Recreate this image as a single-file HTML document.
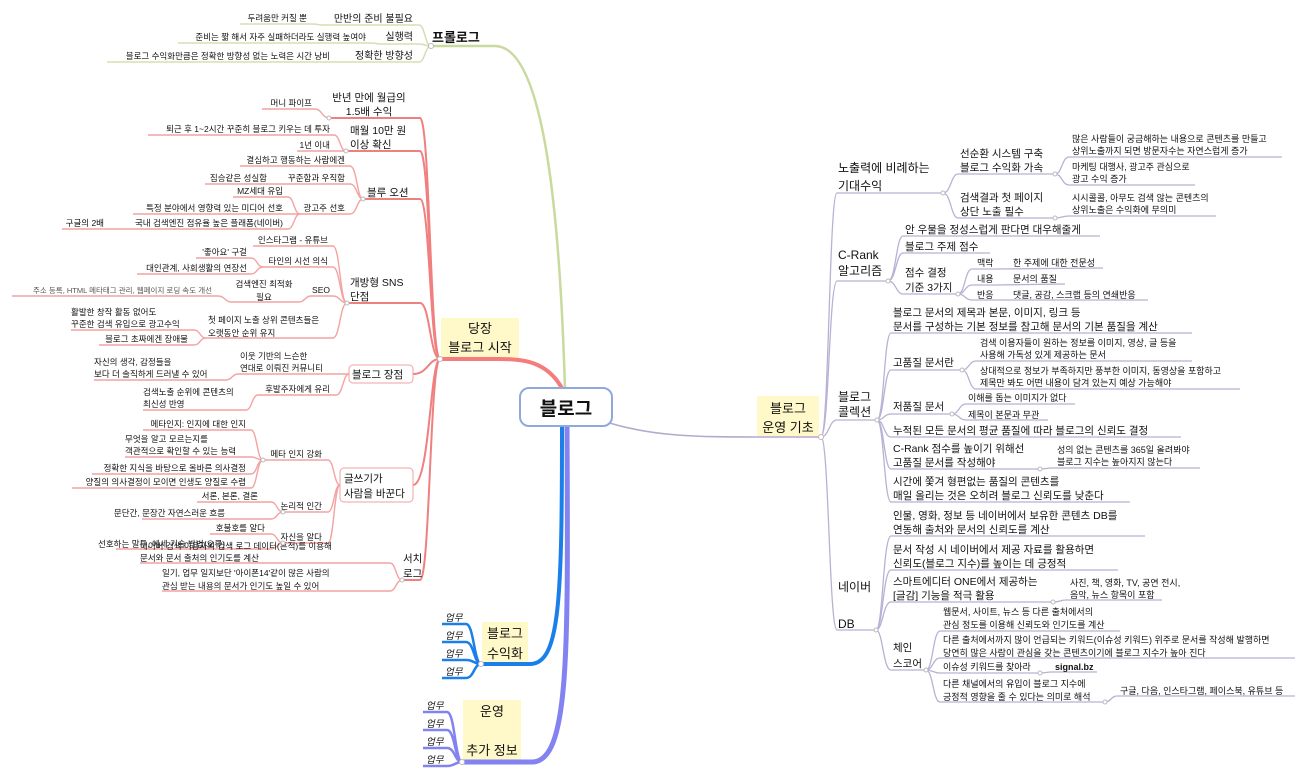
<!DOCTYPE html>
<html><head><meta charset="utf-8"><style>
html,body{margin:0;padding:0;background:#fff;}
svg{display:block;}
text{font-family:"Liberation Sans","Noto Sans CJK KR",sans-serif;fill:#111;}
.f13{font-size:13px;}
.f12{font-size:12px;}
.f105{font-size:10.5px;}
.f10{font-size:10px;}
.f9{font-size:9px;}
.f85{font-size:8.5px;}
.g{font-size:7.5px;fill:#555;}
.up{font-size:9.5px;fill:#9a9a9a;font-style:italic;}
.R path{fill:none;}
</style></head><body>
<svg width="1311" height="777" viewBox="0 0 1311 777" xmlns="http://www.w3.org/2000/svg">
<!-- yellow backgrounds -->
<rect x="441" y="318" width="78" height="40" fill="#fff8c9"/>
<rect x="757" y="396" width="62" height="40" fill="#fff8c9"/>
<rect x="482" y="622" width="46" height="41" fill="#fff8c9"/>
<rect x="463" y="700" width="58" height="61" fill="#fff8c9"/>

<!-- main branches -->
<path d="M565 390 C560 220 545 46 495 46 L431 46" stroke="#c9da9f" stroke-width="2.5" fill="none"/>
<path d="M563 390 C548 362 525 359 500 359 L440 359" stroke="#f47c7c" stroke-width="4" fill="none"/>
<path d="M567 424 C568 650 570 762 532 762 L462 762" stroke="#8282f0" stroke-width="5" fill="none"/>
<path d="M562 424 C562 600 560 664 530 664 L481 664" stroke="#1a7fe8" stroke-width="4" fill="none"/>
<path d="M600 420 C650 437 700 437 757 437 L821 437" stroke="#b3a9cc" stroke-width="1.6" fill="none"/>

<!-- prologue children -->
<g stroke="#d3dfb3" stroke-width="1.5" fill="none">
<path d="M431 46 C425 46 425 25 419 25 L322 25"/>
<path d="M322 25 C318 25 318 24 312 24 L240 24"/>
<path d="M431 46 C425 46 425 44 419 44 L381 44"/>
<path d="M381 44 C376 44 376 43 370 43 L178 43"/>
<path d="M431 46 C425 46 425 62 419 62 L347 62"/>
<path d="M347 62 C342 62 342 62 336 62 L107 62"/>
</g>

<!-- red level 1 -->
<g stroke="#f07f7f" stroke-width="2" fill="none">
<path d="M440 359 C430 359 430 118 420 118 L329 118"/>
<path d="M440 359 C430 359 430 151 420 151 L346 151"/>
<path d="M440 359 C430 359 430 199 420 199 L363 199"/>
<path d="M440 359 C430 359 430 303 420 303 L347 303"/>
<path d="M440 359 C428 359 428 374 413 374"/>
<path d="M440 359 C430 359 430 485 413 485"/>
<path d="M440 359 C430 359 430 580 420 580 L402 580"/>
</g>
<rect x="349" y="365" width="64" height="18" rx="4" fill="#fff" stroke="#f2a0a0" stroke-width="1"/>
<rect x="340" y="468" width="73" height="34" rx="4" fill="#fff" stroke="#f2a0a0" stroke-width="1"/>
<!-- red level 2+ -->
<g stroke="#f4a2a2" stroke-width="1.4" fill="none">
<path d="M329 118 C322 118 322 109 315 109 L262 109"/>
<path d="M346 151 C340 151 340 135 334 135 L148 135"/>
<path d="M346 151 C340 151 340 151 334 151 L297 151"/>
<path d="M363 199 C357 199 357 166 350 166 L240 166"/>
<path d="M363 199 C357 199 357 184 350 184 L283 184"/>
<path d="M283 184 C278 184 278 184 272 184 L205 184"/>
<path d="M363 199 C357 199 357 214 350 214 L300 214"/>
<path d="M300 214 C294 214 294 197 288 197 L233 197"/>
<path d="M300 214 C294 214 294 214 288 214 L133 214"/>
<path d="M300 214 C294 214 294 229 288 229 L120 229"/>
<path d="M120 229 C114 229 114 229 108 229 L62 229"/>
<path d="M347 303 C340 303 340 246 333 246 L253 246"/>
<path d="M347 303 C340 303 340 267 333 267 L263 267"/>
<path d="M263 267 C257 267 257 258 251 258 L196 258"/>
<path d="M263 267 C257 267 257 274 251 274 L137 274"/>
<path d="M347 303 C340 303 340 296 333 296 L311 296"/>
<path d="M311 296 C305 296 305 302 299 302 L231 302"/>
<path d="M231 302 C225 302 225 296 218 296 L12 296"/>
<path d="M347 303 C340 303 340 338 333 338 L206 338"/>
<path d="M206 338 C200 338 200 330 194 330 L71 330"/>
<path d="M206 338 C200 338 200 345 194 345 L99 345"/>
<path d="M349 374 C343 374 343 374 336 374 L238 374"/>
<path d="M238 374 C232 374 232 380 226 380 L94 380"/>
<path d="M349 374 C343 374 343 395 336 395 L258 395"/>
<path d="M258 395 C252 395 252 410 246 410 L143 410"/>
<path d="M340 485 C334 485 334 460 328 460 L263 460"/>
<path d="M263 460 C257 460 257 430 251 430 L143 430"/>
<path d="M263 460 C257 460 257 457 251 457 L125 457"/>
<path d="M263 460 C257 460 257 474 251 474 L92 474"/>
<path d="M263 460 C257 460 257 488 251 488 L72 488"/>
<path d="M340 485 C334 485 334 512 328 512 L283 512"/>
<path d="M283 512 C277 512 277 502 271 502 L197 502"/>
<path d="M283 512 C277 512 277 519 271 519 L142 519"/>
<path d="M340 485 C334 485 334 543 328 543 L283 543"/>
<path d="M283 543 C277 543 277 534 271 534 L210 534"/>
<path d="M283 543 C277 543 277 549 271 549 L116 549"/>
<path d="M402 580 C396 580 396 563 390 563 L140 563"/>
<path d="M402 580 C396 580 396 591 390 591 L162 591"/>
</g>

<!-- blue / purple children -->
<g stroke="#1a7fe8" stroke-width="2.5" fill="none">
<path d="M481 664 C474 664 474 624 466 624 L442 624"/>
<path d="M481 664 C474 664 474 642 466 642 L442 642"/>
<path d="M481 664 C474 664 474 660 466 660 L442 660"/>
<path d="M481 664 C474 664 474 678 466 678 L442 678"/>
</g>
<g stroke="#8282f0" stroke-width="2.5" fill="none">
<path d="M462 762 C455 762 455 712 447 712 L423 712"/>
<path d="M462 762 C455 762 455 730 447 730 L423 730"/>
<path d="M462 762 C455 762 455 748 447 748 L423 748"/>
<path d="M462 762 C455 762 455 766 447 766 L423 766"/>
</g>

<!-- right side -->
<g stroke="#b9b1d3" stroke-width="1.3" fill="none">
<path d="M821 437 C829 437 829 193 837 193 L943 193"/>
<path d="M821 437 C829 437 829 281 837 281 L888 281"/>
<path d="M821 437 C829 437 829 420 837 420 L877 420"/>
<path d="M821 437 C829 437 829 630 837 630 L876 630"/>
<path d="M943 193 C951 193 951 174 958 174 L1055 174"/>
<path d="M943 193 C951 193 951 218 958 218 L1055 218"/>
<path d="M1055 174 C1062 174 1062 157 1069 157 L1282 157"/>
<path d="M1055 174 C1062 174 1062 185 1069 185 L1195 185"/>
<path d="M1055 218 C1062 218 1062 216 1069 216 L1216 216"/>
<path d="M888 281 C896 281 896 236 903 236 L1100 236"/>
<path d="M888 281 C896 281 896 253 903 253 L990 253"/>
<path d="M888 281 C896 281 896 294 903 294 L958 294"/>
<path d="M958 294 C965 294 965 269 972 269 L995 269"/>
<path d="M958 294 C965 294 965 285 972 285 L995 285"/>
<path d="M958 294 C965 294 965 300 972 300 L995 300"/>
<path d="M995 269 L1103 268"/>
<path d="M995 285 L1065 284"/>
<path d="M995 300 L1148 300"/>
<path d="M877 420 C884 420 884 333 891 333 L1192 333"/>
<path d="M877 420 C884 420 884 370 891 370 L962 370"/>
<path d="M962 370 C969 370 969 361 976 361 L1192 361"/>
<path d="M962 370 C969 370 969 389 976 389 L1240 389"/>
<path d="M877 420 C884 420 884 414 891 414 L952 414"/>
<path d="M952 414 C959 414 959 404 966 404 L1075 404"/>
<path d="M952 414 C959 414 959 420 966 420 L1048 420"/>
<path d="M877 420 C884 420 884 437 891 437 L1181 437"/>
<path d="M877 420 C884 420 884 469 891 469 L1040 469"/>
<path d="M1040 469 C1046 469 1046 468 1053 468 L1200 468"/>
<path d="M877 420 C884 420 884 502 891 502 L1130 502"/>
<path d="M876 630 C883 630 883 536 891 536 L1145 536"/>
<path d="M876 630 C883 630 883 570 891 570 L1118 570"/>
<path d="M876 630 C883 630 883 602 891 602 L1053 602"/>
<path d="M1053 602 C1060 602 1060 600 1066 600 L1162 600"/>
<path d="M876 630 C883 630 883 670 891 670 L926 670"/>
<path d="M926 670 C933 670 933 631 940 631 L1120 631"/>
<path d="M926 670 C933 670 933 658 940 658 L1295 658"/>
<path d="M926 670 C933 670 933 673 940 673 L1040 673"/>
<path d="M1040 673 C1046 673 1046 672 1052 672 L1097 672"/>
<path d="M926 670 C933 670 933 702 940 702 L1105 702"/>
<path d="M1105 702 C1111 702 1111 696 1117 696 L1295 696"/>
</g>

<!-- central node -->
<rect x="520" y="388" width="92" height="38" rx="9" fill="#fff" stroke="#8fa9dc" stroke-width="2"/>
<text x="566" y="415" text-anchor="middle" style="font-size:19px;font-weight:bold">블로그</text>

<!-- prologue texts -->
<text class="f13" x="432" y="42" style="font-weight:bold">프롤로그</text>
<g class="f10" text-anchor="end">
<text x="413" y="22">만반의 준비 불필요</text>
<text x="413" y="40">실행력</text>
<text x="413" y="59">정확한 방향성</text>
</g>
<g class="f85" text-anchor="end">
<text x="307" y="21">두려움만 커질 뿐</text>
<text x="366" y="40">준비는 짧 해서 자주 실패하더라도 실행력 높여야</text>
<text x="330" y="59">블로그 수익화만큼은 정확한 방향성 없는 노력은 시간 낭비</text>
</g>

<!-- red texts -->
<text class="f13" x="480" y="333" text-anchor="middle">당장</text>
<text class="f13" x="480" y="352" text-anchor="middle">블로그 시작</text>
<g class="f105">
<text x="369" y="101" text-anchor="middle">반년 만에 월급의</text>
<text x="369" y="115" text-anchor="middle">1.5배 수익</text>
<text x="350" y="134">매월 10만 원</text>
<text x="350" y="148">이상 확신</text>
<text x="367" y="196">블루 오션</text>
<text x="350" y="286">개방형 SNS</text>
<text x="350" y="300">단점</text>
<text x="352" y="378">블로그 장점</text>
<text x="344" y="482">글쓰기가</text>
<text x="344" y="497">사람을 바꾼다</text>
<text x="403" y="562">서치</text>
<text x="403" y="577">로그</text>
</g>
<g class="f85" text-anchor="end">
<text x="312" y="106">머니 파이프</text>
<text x="330" y="132">퇴근 후 1~2시간 꾸준히 블로그 키우는 데 투자</text>
<text x="330" y="148">1년 이내</text>
<text x="345" y="163">결심하고 행동하는 사람에겐</text>
<text x="345" y="181">꾸준함과 우직함</text>
<text x="267" y="181">짐승같은 성실함</text>
<text x="345" y="211">광고주 선호</text>
<text x="283" y="194">MZ세대 유입</text>
<text x="283" y="211">특정 분야에서 영향력 있는 미디어 선호</text>
<text x="283" y="226">국내 검색엔진 점유율 높은 플래폼(네이버)</text>
<text x="104" y="226">구글의 2배</text>
<text x="328" y="243">인스타그램 - 유튜브</text>
<text x="328" y="264">타인의 시선 의식</text>
<text x="247" y="255">'좋아요' 구걸</text>
<text x="247" y="271">대인관계, 사회생활의 연장선</text>
<text x="330" y="293">SEO</text>
<text x="188" y="342">블로그 초짜에겐 장애물</text>
<text x="330" y="392">후발주자에게 유리</text>
<text x="322" y="457">메타 인지 강화</text>
<text x="246" y="427">메타인지: 인지에 대한 인지</text>
<text x="246" y="471">정확한 지식을 바탕으로 올바른 의사결정</text>
<text x="246" y="485">양질의 의사결정이 모이면 인생도 양질로 수렴</text>
<text x="258" y="499">서론, 본론, 결론</text>
<text x="322" y="509">논리적 인간</text>
<text x="225" y="516">문단간, 문장간 자연스러운 흐름</text>
<text x="265" y="531">호불호를 알다</text>
<text x="322" y="540">자신을 알다</text>
<text x="225" y="547">선호하는 말투, 에세 기술 방법(오류)</text>
</g>
<g class="f85">
<text x="264" y="287" text-anchor="middle">검색엔진 최적화</text>
<text x="264" y="300" text-anchor="middle">필요</text>
<text x="208" y="323">첫 페이지 노출 상위 콘텐츠들은</text>
<text x="208" y="336">오랫동안 순위 유지</text>
<text x="71" y="315">활발한 창작 활동 없어도</text>
<text x="71" y="327">꾸준한 검색 유입으로 광고수익</text>
<text x="240" y="359">이웃 기반의 느슨한</text>
<text x="240" y="371">연대로 이뤄진 커뮤니티</text>
<text x="94" y="365">자신의 생각, 감정들을</text>
<text x="94" y="377">보다 더 솔직하게 드러낼 수 있어</text>
<text x="143" y="395">검색노출 순위에 콘텐츠의</text>
<text x="143" y="407">최신성 반영</text>
<text x="125" y="442">무엇을 알고 모르는지를</text>
<text x="125" y="454">객관적으로 확인할 수 있는 능력</text>
<text x="140" y="549">네이버 검색 이용자의 검색 로그 데이터(흔적)를 이용해</text>
<text x="140" y="561">문서와 문서 출처의 인기도를 계산</text>
<text x="162" y="576">일기, 업무 일지보단 '아이폰14'같이 많은 사람의</text>
<text x="162" y="589">관심 받는 내용의 문서가 인기도 높일 수 있어</text>
</g>
<text class="g" x="212" y="293" text-anchor="end">주소 등록, HTML 메타태그 관리, 웹페이지 로딩 속도 개선</text>

<!-- blue/purple -->
<text class="f13" x="505" y="638" text-anchor="middle">블로그</text>
<text class="f13" x="505" y="658" text-anchor="middle">수익화</text>
<text class="f13" x="492" y="716" text-anchor="middle">운영</text>
<text class="f13" x="492" y="755" text-anchor="middle">추가 정보</text>
<g class="up">
<text x="445" y="621">업무</text><text x="445" y="639">업무</text><text x="445" y="657">업무</text><text x="445" y="675">업무</text>
<text x="426" y="709">업무</text><text x="426" y="727">업무</text><text x="426" y="745">업무</text><text x="426" y="763">업무</text>
</g>

<!-- right texts -->
<text class="f13" x="788" y="413" text-anchor="middle">블로그</text>
<text class="f13" x="788" y="432" text-anchor="middle">운영 기초</text>
<g class="f12">
<text x="838" y="172">노출력에 비례하는</text>
<text x="838" y="190">기대수익</text>
<text x="838" y="259">C-Rank</text>
<text x="838" y="275">알고리즘</text>
<text x="838" y="401">블로그</text>
<text x="838" y="416">콜렉션</text>
<text x="838" y="591">네이버</text>
<text x="838" y="628">DB</text>
</g>
<g class="f105">
<text x="960" y="157">선순환 시스템 구축</text>
<text x="960" y="171">블로그 수익화 가속</text>
<text x="960" y="201">검색결과 첫 페이지</text>
<text x="960" y="215">상단 노출 필수</text>
<text x="905" y="233">안 우물을 정성스럽게 판다면 대우해줄게</text>
<text x="905" y="250">블로그 주제 점수</text>
<text x="905" y="276">점수 결정</text>
<text x="905" y="291">기준 3가지</text>
<text x="893" y="316">블로그 문서의 제목과 본문, 이미지, 링크 등</text>
<text x="893" y="330">문서를 구성하는 기본 정보를 참고해 문서의 기본 품질을 계산</text>
<text x="893" y="366">고품질 문서란</text>
<text x="893" y="410">저품질 문서</text>
<text x="893" y="434">누적된 모든 문서의 평균 품질에 따라 블로그의 신뢰도 결정</text>
<text x="893" y="452">C-Rank 점수를 높이기 위해선</text>
<text x="893" y="466">고품질 문서를 작성해야</text>
<text x="893" y="485">시간에 쫓겨 형편없는 품질의 콘텐츠를</text>
<text x="893" y="499">매일 올리는 것은 오히려 블로그 신뢰도를 낮춘다</text>
<text x="893" y="519">인물, 영화, 정보 등 네이버에서 보유한 콘텐츠 DB를</text>
<text x="893" y="533">연동해 출처와 문서의 신뢰도를 계산</text>
<text x="893" y="553">문서 작성 시 네이버에서 제공 자료를 활용하면</text>
<text x="893" y="567">신뢰도(블로그 지수)를 높이는 데 긍정적</text>
<text x="893" y="585">스마트에디터 ONE에서 제공하는</text>
<text x="893" y="599">[글감] 기능을 적극 활용</text>
<text x="893" y="651">체인</text>
<text x="893" y="667">스코어</text>
</g>
<g class="f9">
<text x="1072" y="142">많은 사람들이 궁금해하는 내용으로 콘텐츠를 만들고</text>
<text x="1072" y="154">상위노출까지 되면 방문자수는 자연스럽게 증가</text>
<text x="1072" y="170">마케팅 대행사, 광고주 관심으로</text>
<text x="1072" y="182">광고 수익 증가</text>
<text x="1072" y="201">시시콜콜, 아무도 검색 않는 콘텐츠의</text>
<text x="1072" y="213">상위노출은 수익화에 무의미</text>
<text x="977" y="266">맥락</text>
<text x="977" y="282">내용</text>
<text x="977" y="298">반응</text>
<text x="1013" y="266">한 주제에 대한 전문성</text>
<text x="1013" y="282">문서의 품질</text>
<text x="1013" y="298">댓글, 공감, 스크랩 등의 연쇄반응</text>
<text x="980" y="346">검색 이용자들이 원하는 정보를 이미지, 영상, 글 등을</text>
<text x="980" y="358">사용해 가독성 있게 제공하는 문서</text>
<text x="980" y="374">상대적으로 정보가 부족하지만 풍부한 이미지, 동영상을 포함하고</text>
<text x="980" y="386">제목만 봐도 어떤 내용이 담겨 있는지 예상 가능해야</text>
<text x="968" y="401">이해를 돕는 이미지가 없다</text>
<text x="968" y="418">제목이 본문과 무관</text>
<text x="1057" y="453">성의 없는 콘텐츠를 365일 올려봐야</text>
<text x="1057" y="465">블로그 지수는 높아지지 않는다</text>
<text x="1070" y="586">사진, 책, 영화, TV, 공연 전시,</text>
<text x="1070" y="598">음악, 뉴스 항목이 포함</text>
<text x="943" y="615">웹문서, 사이트, 뉴스 등 다른 출처에서의</text>
<text x="943" y="628">관심 정도를 이용해 신뢰도와 인기도를 계산</text>
<text x="943" y="643">다른 출처에서까지 많이 언급되는 키워드(이슈성 키워드) 위주로 문서를 작성해 발행하면</text>
<text x="943" y="656">당연히 많은 사람이 관심을 갖는 콘텐츠이기에 블로그 지수가 높아 진다</text>
<text x="943" y="670">이슈성 키워드를 찾아라</text>
<text x="1055" y="670" style="font-weight:bold">signal.bz</text>
<text x="943" y="687">다른 채널에서의 유입이 블로그 지수에</text>
<text x="943" y="700">긍정적 영향을 줄 수 있다는 의미로 해석</text>
<text x="1120" y="694">구글, 다음, 인스타그램, 페이스북, 유튜브 등</text>
</g>

<!-- dots -->
<g fill="#fff" stroke="#bbb" stroke-width="1">
<circle cx="431" cy="46" r="2.5"/><circle cx="440" cy="359" r="2.5"/>
<circle cx="821" cy="437" r="2.5"/><circle cx="481" cy="664" r="2.5"/><circle cx="462" cy="762" r="2.5"/>
<circle cx="943" cy="193" r="2"/><circle cx="888" cy="281" r="2"/><circle cx="877" cy="420" r="2"/><circle cx="876" cy="630" r="2"/>
<circle cx="1055" cy="174" r="2"/><circle cx="1055" cy="218" r="2"/><circle cx="958" cy="294" r="2"/>
<circle cx="962" cy="370" r="2"/><circle cx="952" cy="414" r="2"/><circle cx="1040" cy="469" r="2"/>
<circle cx="1053" cy="602" r="2"/><circle cx="926" cy="670" r="2"/><circle cx="1040" cy="673" r="2"/><circle cx="1105" cy="702" r="2"/>
<circle cx="329" cy="118" r="2"/><circle cx="346" cy="151" r="2"/><circle cx="363" cy="199" r="2"/><circle cx="347" cy="303" r="2"/>
<circle cx="263" cy="460" r="2"/><circle cx="283" cy="512" r="2"/><circle cx="283" cy="543" r="2"/><circle cx="402" cy="580" r="2"/>
</g>
</svg>
</body></html>
